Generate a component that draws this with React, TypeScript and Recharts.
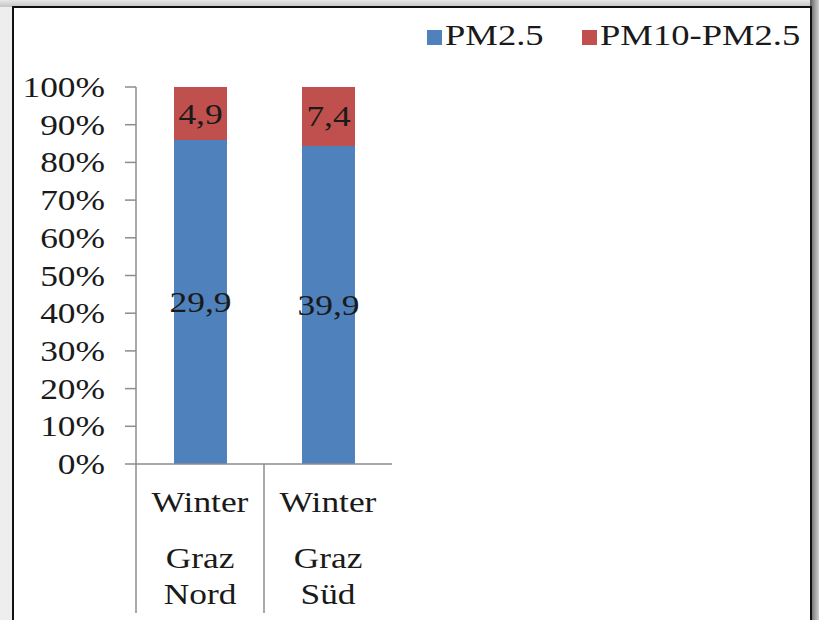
import React from "react";
import { BarChart, Bar, XAxis, YAxis, LabelList, Legend } from "recharts";

const categories = ["Winter Graz Nord", "Winter Graz Süd"];
const pm25 = [29.9, 39.9];
const pmCoarse = [4.9, 7.4];
const seriesNames = ["PM2.5", "PM10-PM2.5"];
const yTicks = [0, 0.1, 0.2, 0.3, 0.4, 0.5, 0.6, 0.7, 0.8, 0.9, 1];

const COLORS = ["#4F81BD", "#C0504D"];
const FONT = "'Liberation Serif', 'Times New Roman', serif";
const SX = 1.18;
const TEXT_COLOR = "#1a1a1a";

const data = categories.map((c, i) => ({ name: c, pm25: pm25[i], coarse: pmCoarse[i] }));

const fmt = (v: number) => String(v).replace(".", ",");

const YTick = (props: any) => {
  const { x, y, payload } = props;
  return (
    <text
      transform={`translate(${x},${y + 10}) scale(${SX},1)`}
      textAnchor="end"
      fontFamily={FONT}
      fontSize={30}
      fill={TEXT_COLOR}
    >
      {`${Math.round(payload.value * 100)}%`}
    </text>
  );
};

const XTick = (props: any) => {
  const { x, y, payload } = props;
  const words = String(payload.value).split(" ");
  const offsets = [48, 104, 140];
  return (
    <g>
      <line x1={x - 64} x2={x - 64} y1={y} y2={y + 149} stroke="#8c8c8c" strokeWidth={1.5} />
      {words.map((w, i) => (
        <text
          key={i}
          transform={`translate(${x},${y + offsets[i]}) scale(${SX},1)`}
          textAnchor="middle"
          fontFamily={FONT}
          fontSize={30}
          fill={TEXT_COLOR}
        >
          {w}
        </text>
      ))}
    </g>
  );
};

const renderLabel = (props: any) => {
  const { x, y, width, height, value } = props;
  return (
    <text
      transform={`translate(${x + width / 2},${y + height / 2 + 10}) scale(${SX},1)`}
      textAnchor="middle"
      fontFamily={FONT}
      fontSize={30}
      fill={TEXT_COLOR}
    >
      {fmt(value)}
    </text>
  );
};

const legendPos = [
  { rx: 427, tx: 445 },
  { rx: 582, tx: 600 },
];

const renderLegend = () => (
  <svg width={819} height={60} style={{ display: "block" }}>
    {seriesNames.map((n, i) => (
      <g key={n}>
        <rect x={legendPos[i].rx} y={30} width={15} height={15} fill={COLORS[i]} />
        <text
          transform={`translate(${legendPos[i].tx},45) scale(1.22,1)`}
          fontFamily={FONT}
          fontSize={30}
          fill={TEXT_COLOR}
        >
          {n}
        </text>
      </g>
    ))}
  </svg>
);

export default function App() {
  return (
    <div
      style={{
        position: "absolute",
        left: 0,
        top: 0,
        width: 819,
        height: 620,
        overflow: "hidden",
        background: "#eeeeee",
      }}
    >
      <div
        style={{
          position: "absolute",
          left: 0,
          top: 0,
          width: 819,
          height: 7,
          background: "linear-gradient(to bottom, #e8e8e8, #c4c4c4)",
        }}
      />
      <div
        style={{
          position: "absolute",
          left: 810,
          top: 0,
          width: 9,
          height: 620,
          background: "linear-gradient(to right, #5a5a5a, #9a9a9a, #cfcfcf)",
        }}
      />
      <div
        style={{
          position: "absolute",
          left: 12,
          top: 6,
          width: 796,
          height: 640,
          background: "#ffffff",
          borderLeft: "2px solid #111",
          borderTop: "2px solid #111",
          borderRight: "2px solid #111",
        }}
      />
      <div style={{ position: "absolute", left: 0, top: 0 }}>
        <BarChart
          width={819}
          height={620}
          data={data}
          stackOffset="expand"
          margin={{ top: 87, right: 427, bottom: 0, left: 0 }}
          barCategoryGap={0}
        >
          <YAxis
            width={136}
            domain={[0, 1]}
            ticks={yTicks}
            tickSize={11}
            tickMargin={20}
            stroke="#8c8c8c"
            strokeWidth={1.5}
            tick={<YTick />}
            interval={0}
          />
          <XAxis
            dataKey="name"
            height={156}
            tickSize={0}
            tickMargin={0}
            tickLine={false}
            stroke="#8c8c8c"
            strokeWidth={1.5}
            tick={<XTick />}
            interval={0}
          />
          <Legend
            verticalAlign="middle"
            align="center"
            layout="horizontal"
            wrapperStyle={{ top: 0, left: 0, width: 819, height: 60 }}
            content={renderLegend}
          />
          <Bar dataKey="pm25" name={seriesNames[0]} stackId="a" fill={COLORS[0]} barSize={53} isAnimationActive={false}>
            <LabelList dataKey="pm25" content={renderLabel} />
          </Bar>
          <Bar dataKey="coarse" name={seriesNames[1]} stackId="a" fill={COLORS[1]} barSize={53} isAnimationActive={false}>
            <LabelList dataKey="coarse" content={renderLabel} />
          </Bar>
        </BarChart>
      </div>
    </div>
  );
}
